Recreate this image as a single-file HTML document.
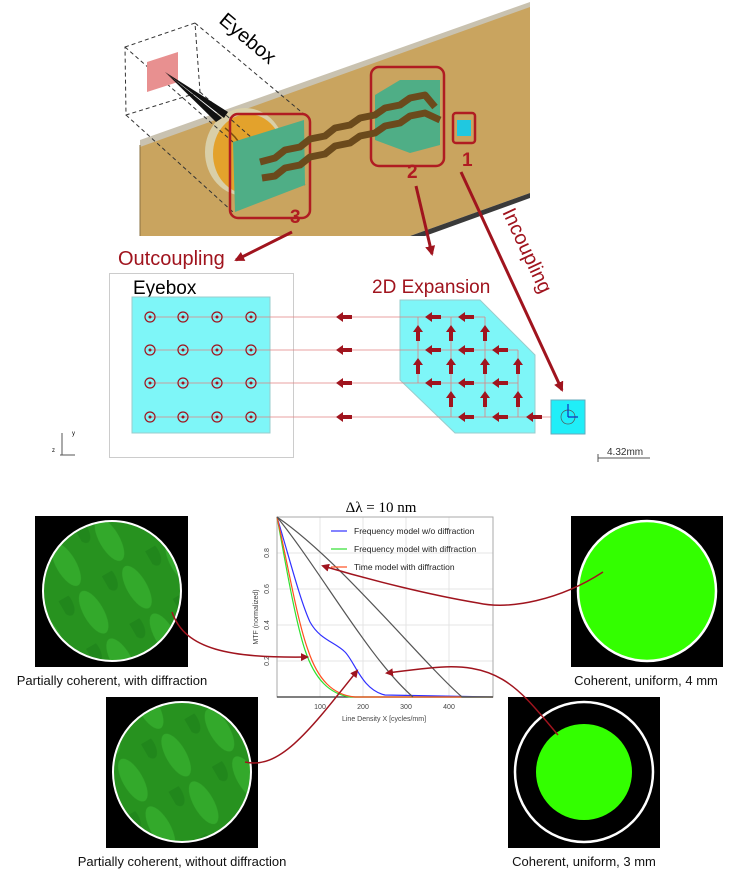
<!DOCTYPE html>
<html><head><meta charset="utf-8"><style>
html,body{margin:0;padding:0;background:#fff;}
svg{display:block;font-family:"Liberation Sans",Arial,sans-serif;}
</style></head><body>
<svg width="729" height="883" viewBox="0 0 729 883" xmlns="http://www.w3.org/2000/svg">
<defs>
<marker id="ah" markerWidth="8" markerHeight="8" refX="6" refY="4" orient="auto" markerUnits="userSpaceOnUse"><path d="M0,0 L8,4 L0,8 z" fill="#a0141e"/></marker>
<marker id="ah2" markerWidth="10" markerHeight="10" refX="8" refY="5" orient="auto" markerUnits="userSpaceOnUse"><path d="M0,0 L10,5 L0,10 z" fill="#a0141e"/></marker>
<pattern id="streak" width="50" height="55" patternUnits="userSpaceOnUse" patternTransform="rotate(-30)">
<rect width="50" height="55" fill="#27921f"/><ellipse cx="25" cy="27" rx="10" ry="24" fill="#3cbc35" opacity="0.55"/><ellipse cx="5" cy="5" rx="7" ry="14" fill="#1a7516" opacity="0.4"/></pattern>
</defs>

<!-- top plate -->
<polygon points="140,145 530,5 530,193 410,236 140,236" fill="#c9a45f"/>
<polygon points="140,140 530,2 530,7 140,147" fill="#c9c2b0"/>
<polygon points="410,236 530,193 530,198 425,236" fill="#3a3a3a"/>
<line x1="140" y1="145" x2="140" y2="236" stroke="#8a7040" stroke-width="1"/>

<!-- eye -->
<ellipse cx="245" cy="152" rx="40" ry="44" fill="#d9cfa8"/>
<ellipse cx="248" cy="154" rx="35" ry="40" fill="#e3a22c"/>
<path d="M225,128 Q255,150 245,192" stroke="#7a5010" fill="none" stroke-width="1.5"/>
<!-- dashed eyebox cube -->
<g stroke="#333" stroke-width="1" stroke-dasharray="4,3" fill="none">
<polygon points="125,47 195,23 200,92 126,115"/>
<line x1="195" y1="23" x2="305" y2="115"/>
<line x1="125" y1="47" x2="233" y2="142"/>
<line x1="126" y1="115" x2="233" y2="212"/>
<line x1="200" y1="92" x2="305" y2="185"/>
</g>
<polygon points="147,62 178,52 178,82 147,92" fill="#e89090"/>
<polygon points="165,72 222,118 216,122" fill="#111"/>
<polygon points="165,72 228,112 224,118" fill="#111"/>
<!-- green 3 -->
<polygon points="233,142 304,120 305,185 235,212" fill="#4fae86"/>
<rect x="230" y="114" width="80" height="104" rx="8" fill="none" stroke="#b01c22" stroke-width="2.5"/>
<!-- box 2 -->
<polygon points="375,95 400,80 440,80 440,145 410,153 375,140" fill="#4fae86"/>
<rect x="371" y="67" width="73" height="99" rx="8" fill="none" stroke="#b01c22" stroke-width="2.5"/>
<rect x="453" y="113" width="22" height="30" rx="3" fill="none" stroke="#b01c22" stroke-width="2.5"/>
<rect x="457" y="120" width="14" height="16" fill="#20c8e0"/>
<!-- waveguide zigzags -->
<g stroke="#6b4a1c" stroke-width="7" fill="none" stroke-linejoin="round">
<path d="M260,162 L275,158 L285,150 L300,147 L310,139 L325,136 L335,128 L350,125 L360,118 L375,115 L385,108 L400,105 L410,98 L425,95 L435,107"/>
<path d="M262,178 L275,176 L285,168 L300,165 L310,157 L325,154 L335,146 L350,143 L360,136 L375,133 L385,126 L400,123 L410,116 L425,113 L440,120"/>
</g>
<g fill="#b01c22" font-weight="bold" font-size="19">
<text x="290" y="223">3</text><text x="407" y="178">2</text><text x="462" y="166">1</text>
</g>
<text x="0" y="0" font-size="20" transform="translate(218,22) rotate(40)">Eyebox</text>

<!-- arrows -->
<line x1="292" y1="232" x2="236" y2="260" stroke="#a0141e" stroke-width="3" marker-end="url(#ah2)"/>
<line x1="416" y1="186" x2="432" y2="254" stroke="#a0141e" stroke-width="3" marker-end="url(#ah2)"/>
<line x1="461" y1="172" x2="562" y2="390" stroke="#a0141e" stroke-width="3" marker-end="url(#ah2)"/>
<text x="118" y="265" font-size="20" fill="#a0141e">Outcoupling</text>
<text font-size="20" fill="#a0141e" transform="translate(502,212) rotate(65)">Incoupling</text>

<!-- middle diagram -->
<rect x="109.5" y="273.5" width="184" height="184" fill="none" stroke="#ccc"/>
<text x="133" y="294" font-size="19">Eyebox</text>
<rect x="132" y="297" width="138" height="136" fill="#7ef6f8" stroke="#9cc" />
<polygon points="400,300 480,300 535,355 535,433 455,433 400,380" fill="#7ef6f8" stroke="#9cc"/>
<rect x="551" y="400" width="34" height="34" fill="#20eef8" stroke="#6ab"/>
<circle cx="568" cy="417" r="7" fill="none" stroke="#555" stroke-width="0.7"/>
<path d="M568,417 V404 M568,417 H578" stroke="#1030c0" stroke-width="1.2"/>
<text x="372" y="293" font-size="19" fill="#a0141e">2D Expansion</text>
<g stroke="#e08080" stroke-width="0.8">
<line x1="150" y1="317" x2="485" y2="317"/><line x1="150" y1="350" x2="518" y2="350"/>
<line x1="150" y1="383" x2="518" y2="383"/><line x1="150" y1="417" x2="551" y2="417"/>
<line x1="418" y1="317" x2="418" y2="383"/><line x1="451" y1="317" x2="451" y2="417"/>
<line x1="485" y1="317" x2="485" y2="417"/><line x1="518" y1="350" x2="518" y2="417"/>
</g>
<g fill="none" stroke="#a0141e" stroke-width="1.2">
<circle cx="150" cy="317" r="5"/><circle cx="183" cy="317" r="5"/><circle cx="217" cy="317" r="5"/><circle cx="251" cy="317" r="5"/>
<circle cx="150" cy="350" r="5"/><circle cx="183" cy="350" r="5"/><circle cx="217" cy="350" r="5"/><circle cx="251" cy="350" r="5"/>
<circle cx="150" cy="383" r="5"/><circle cx="183" cy="383" r="5"/><circle cx="217" cy="383" r="5"/><circle cx="251" cy="383" r="5"/>
<circle cx="150" cy="417" r="5"/><circle cx="183" cy="417" r="5"/><circle cx="217" cy="417" r="5"/><circle cx="251" cy="417" r="5"/>
</g>
<g fill="#a0141e">
<circle cx="150" cy="317" r="1.5"/><circle cx="183" cy="317" r="1.5"/><circle cx="217" cy="317" r="1.5"/><circle cx="251" cy="317" r="1.5"/>
<circle cx="150" cy="350" r="1.5"/><circle cx="183" cy="350" r="1.5"/><circle cx="217" cy="350" r="1.5"/><circle cx="251" cy="350" r="1.5"/>
<circle cx="150" cy="383" r="1.5"/><circle cx="183" cy="383" r="1.5"/><circle cx="217" cy="383" r="1.5"/><circle cx="251" cy="383" r="1.5"/>
<circle cx="150" cy="417" r="1.5"/><circle cx="183" cy="417" r="1.5"/><circle cx="217" cy="417" r="1.5"/><circle cx="251" cy="417" r="1.5"/>
</g>
<g fill="#a0141e">
<path d="M336,317 l7,-5 v3 h9 v4 h-9 v3 z"/><path d="M336,350 l7,-5 v3 h9 v4 h-9 v3 z"/>
<path d="M336,383 l7,-5 v3 h9 v4 h-9 v3 z"/><path d="M336,417 l7,-5 v3 h9 v4 h-9 v3 z"/>
<path d="M425,317 l7,-5 v3 h9 v4 h-9 v3 z"/><path d="M458,317 l7,-5 v3 h9 v4 h-9 v3 z"/>
<path d="M425,350 l7,-5 v3 h9 v4 h-9 v3 z"/><path d="M458,350 l7,-5 v3 h9 v4 h-9 v3 z"/><path d="M492,350 l7,-5 v3 h9 v4 h-9 v3 z"/>
<path d="M425,383 l7,-5 v3 h9 v4 h-9 v3 z"/><path d="M458,383 l7,-5 v3 h9 v4 h-9 v3 z"/><path d="M492,383 l7,-5 v3 h9 v4 h-9 v3 z"/>
<path d="M458,417 l7,-5 v3 h9 v4 h-9 v3 z"/><path d="M492,417 l7,-5 v3 h9 v4 h-9 v3 z"/><path d="M526,417 l7,-5 v3 h9 v4 h-9 v3 z"/>
<path d="M418,325 l-5,7 h3 v9 h4 v-9 h3 z"/><path d="M451,325 l-5,7 h3 v9 h4 v-9 h3 z"/><path d="M485,325 l-5,7 h3 v9 h4 v-9 h3 z"/>
<path d="M418,358 l-5,7 h3 v9 h4 v-9 h3 z"/><path d="M451,358 l-5,7 h3 v9 h4 v-9 h3 z"/><path d="M485,358 l-5,7 h3 v9 h4 v-9 h3 z"/><path d="M518,358 l-5,7 h3 v9 h4 v-9 h3 z"/>
<path d="M451,391 l-5,7 h3 v9 h4 v-9 h3 z"/><path d="M485,391 l-5,7 h3 v9 h4 v-9 h3 z"/><path d="M518,391 l-5,7 h3 v9 h4 v-9 h3 z"/>
</g>
<line x1="598" y1="458" x2="650" y2="458" stroke="#555"/><line x1="598" y1="454" x2="598" y2="462" stroke="#555"/>
<text x="607" y="455" font-size="10" fill="#333">4.32mm</text>
<path d="M60,455 h15 M62,455 v-22" stroke="#555" stroke-width="1"/><text x="72" y="435" font-size="6">y</text><text x="52" y="452" font-size="6">z</text>

<!-- images -->
<rect x="35" y="516" width="153" height="151" fill="#000"/>
<ellipse cx="112" cy="591" rx="69" ry="70" fill="url(#streak)" stroke="#fff" stroke-width="2"/>
<rect x="106" y="697" width="152" height="151" fill="#000"/>
<ellipse cx="182" cy="772" rx="69" ry="70" fill="url(#streak)" stroke="#fff" stroke-width="2"/>
<rect x="571" y="516" width="152" height="151" fill="#000"/>
<ellipse cx="647" cy="591" rx="69" ry="70" fill="#33ff00" stroke="#fff" stroke-width="2.5"/>
<rect x="508" y="697" width="152" height="151" fill="#000"/>
<ellipse cx="584" cy="772" rx="69" ry="70" fill="none" stroke="#fff" stroke-width="2.5"/>
<ellipse cx="584" cy="772" rx="48" ry="48" fill="#33ff00"/>
<g font-size="13" text-anchor="middle" fill="#111">
<text x="112" y="685">Partially coherent, with diffraction</text>
<text x="182" y="866">Partially coherent, without diffraction</text>
<text x="646" y="685">Coherent, uniform, 4 mm</text>
<text x="584" y="866">Coherent, uniform, 3 mm</text>
</g>

<!-- chart -->
<text x="381" y="512" font-size="15" font-family="Liberation Serif,serif" text-anchor="middle">Δλ = 10 nm</text>
<g stroke="#e4e4e4" stroke-width="1">
<line x1="320" y1="517" x2="320" y2="697"/><line x1="363" y1="517" x2="363" y2="697"/><line x1="406" y1="517" x2="406" y2="697"/><line x1="449" y1="517" x2="449" y2="697"/>
<line x1="277" y1="553" x2="493" y2="553"/><line x1="277" y1="589" x2="493" y2="589"/><line x1="277" y1="625" x2="493" y2="625"/><line x1="277" y1="661" x2="493" y2="661"/>
</g>
<rect x="277" y="517" width="216" height="180" fill="none" stroke="#aaa"/>
<line x1="277" y1="697" x2="493" y2="697" stroke="#333" stroke-width="1.2"/>
<g font-size="7" fill="#444" text-anchor="middle">
<text x="320" y="709">100</text><text x="363" y="709">200</text><text x="406" y="709">300</text><text x="449" y="709">400</text>
<text x="384" y="721">Line Density X [cycles/mm]</text>
<text transform="translate(269,553) rotate(-90)">0.8</text><text transform="translate(269,589) rotate(-90)">0.6</text>
<text transform="translate(269,625) rotate(-90)">0.4</text><text transform="translate(269,661) rotate(-90)">0.2</text>
<text transform="translate(258,617) rotate(-90)">MTF (normalized)</text>
</g>
<g fill="none" stroke-width="1.2">
<path d="M277,517 C290,560 300,600 310,622 C320,640 335,642 345,652 C355,662 362,690 385,695 L493,697" stroke="#3030ff"/>
<path d="M277,517 C285,560 295,620 305,650 C315,680 330,694 350,697 L493,697" stroke="#30e030"/>
<path d="M277,517 C287,560 297,620 308,650 C318,680 333,695 355,697 L493,697" stroke="#ff5020"/>
<path d="M277,517 C320,570 370,660 413,697" stroke="#555"/>
<path d="M277,517 C340,560 420,660 462,697 L493,697" stroke="#555"/>
</g>
<g font-size="8.5" fill="#222">
<line x1="331" y1="531" x2="347" y2="531" stroke="#3030ff" stroke-width="1.2"/><text x="354" y="534">Frequency model w/o diffraction</text>
<line x1="331" y1="549" x2="347" y2="549" stroke="#30e030" stroke-width="1.2"/><text x="354" y="552">Frequency model with diffraction</text>
<line x1="331" y1="567" x2="347" y2="567" stroke="#ff5020" stroke-width="1.2"/><text x="354" y="570">Time model with diffraction</text>
</g>
<!-- red connectors -->
<g fill="none" stroke="#a0141e" stroke-width="1.5">
<path d="M603,572 C560,600 510,610 478,603 C430,595 370,580 323,566" marker-end="url(#ah)"/>
<path d="M172,612 C185,650 230,658 307,657" marker-end="url(#ah)"/>
<path d="M245,762 C280,770 310,730 357,671" marker-end="url(#ah)"/>
<path d="M558,735 C520,690 500,660 430,668 C410,670 395,672 387,673" marker-end="url(#ah)"/>
</g>
</svg>
</body></html>
